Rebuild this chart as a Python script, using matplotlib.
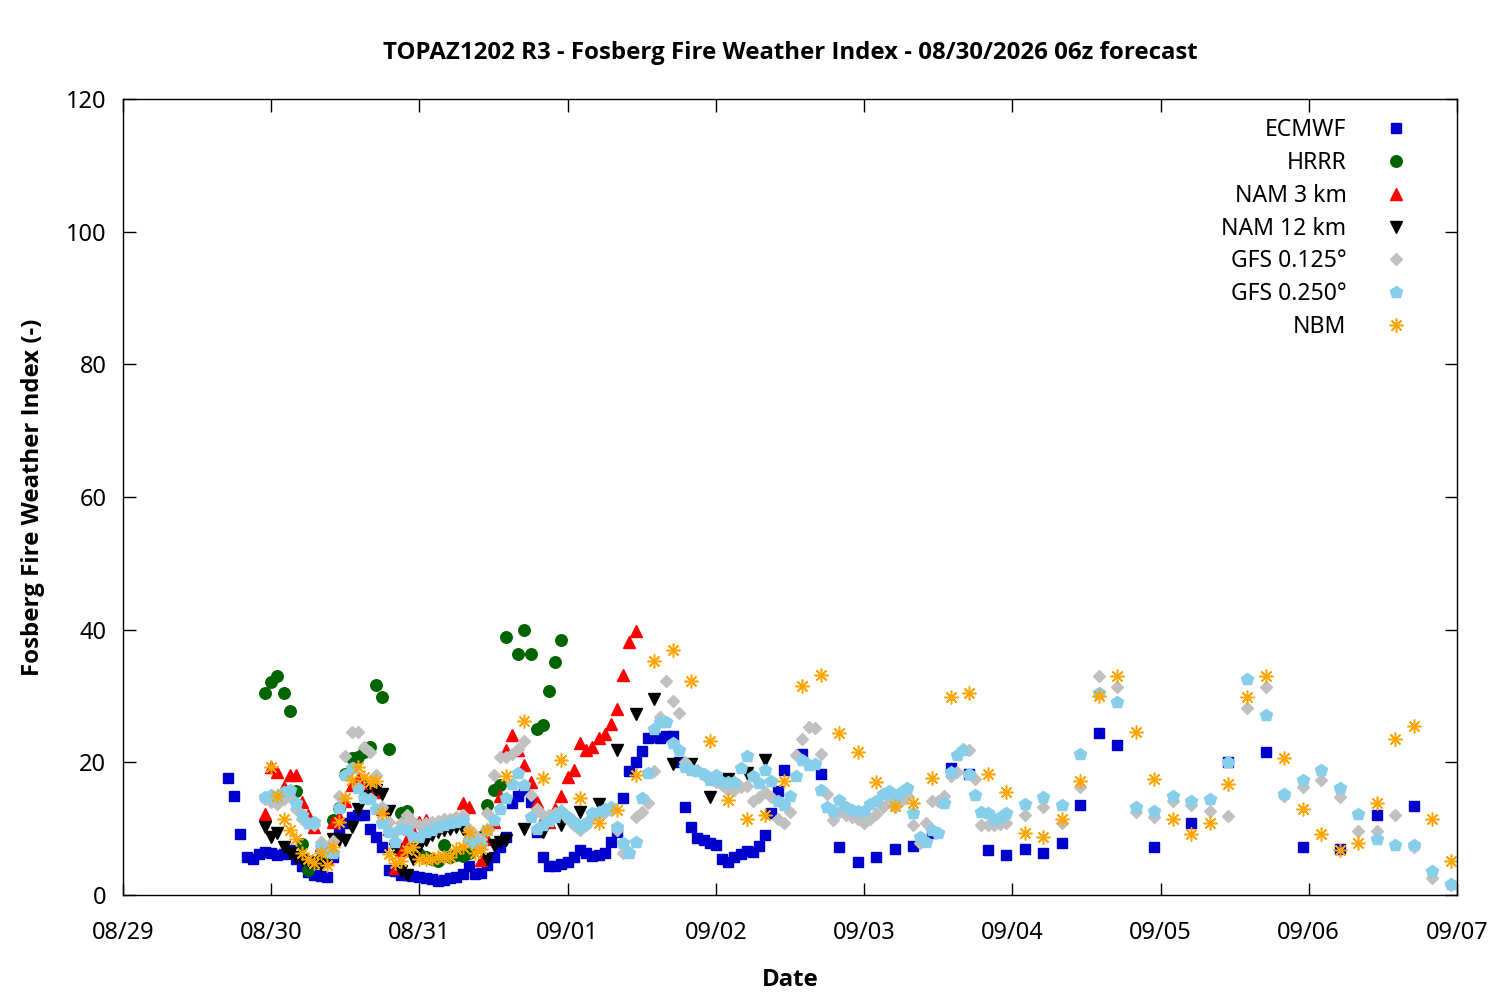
import matplotlib
matplotlib.use("Agg")
import matplotlib.pyplot as plt
from matplotlib import font_manager
import numpy as np

plt.rcParams['font.family'] = ['Noto Sans', 'DejaVu Sans']

# pick a bold-capable family
bold_family = 'DejaVu Sans'
for fam in ['Noto Sans', 'Open Sans', 'Liberation Sans']:
    try:
        fp = font_manager.findfont(font_manager.FontProperties(family=fam, weight='bold'),
                                   fallback_to_default=False)
        if 'bold' in fp.lower():
            bold_family = fam
            break
    except Exception:
        pass

# ---- data (hours since 08/29 00 local) ----
date_labels = ["08/29", "08/30", "08/31", "09/01", "09/02", "09/03", "09/04", "09/05", "09/06", "09/07"]

ecmwf_hours = list(range(17, 108)) + list(range(110, 162, 3)) + list(range(167, 210, 6))
ecmwf_vals = [17.6, 14.9, 9.2, 5.7, 5.4, 6.2, 6.5, 6.3, 6.1, 6.2,
              6.8, 5.5, 4.4, 3.4, 3.0, 2.9, 2.7, 5.8, 9.2, 10.8,
              11.8, 12.0, 12.1, 10.0, 8.7, 7.2, 3.8, 3.6, 3.0, 3.0,
              2.9, 2.7, 2.5, 2.4, 2.1, 2.3, 2.6, 2.7, 3.1, 4.4,
              3.1, 3.3, 4.5, 5.8, 7.2, 8.8, 13.9, 15.0, 15.8, 14.0,
              9.5, 5.8, 4.4, 4.4, 4.7, 5.0, 5.7, 6.8, 6.4, 5.9,
              6.0, 6.4, 8.0, 9.5, 14.6, 18.7, 20.0, 21.7, 23.7, 23.8,
              23.7, 24.0, 24.0, 20.0, 13.2, 10.2, 8.6, 8.3, 7.9, 7.6,
              5.4, 4.9, 5.7, 6.2, 6.6, 6.5, 7.4, 9.0, 12.3, 15.7,
              18.9,
              21.2, 18.2, 7.2, 4.9, 5.8, 6.9, 7.4, 9.3, 19.2, 18.3,
              6.8, 6.1, 6.9, 6.4, 7.8, 13.5, 24.4, 22.6,
              7.2, 10.8, 20.1, 21.5, 7.2, 7.0, 12.0, 13.4]

hrrr_hours = list(range(23, 44)) + list(range(45, 63)) + list(range(64, 72))
hrrr_vals = [30.5, 32.1, 33.0, 30.4, 27.7, 15.7, 7.7, 3.8, 4.8, 5.5,
             7.0, 11.3, 13.1, 18.2, 20.6, 20.8, 21.5, 22.3, 31.7, 29.8, 22.0,
             12.4, 12.7, 7.0, 6.2, 5.8, 5.4, 5.2, 7.6, 5.8, 6.0, 5.9, 6.3, 7.5, 8.8, 13.6, 15.8, 16.6, 38.9,
             36.4, 40.0, 36.3, 25.1, 25.7, 30.8, 35.1, 38.5]

nam3_hours = list(range(23, 84))
nam3_vals = [12.2, 19.3, 18.6, 16.3, 18.1, 18.1, 14.0, 12.0, 10.3, 7.5,
             5.4, 11.0, 11.8, 14.1, 16.6, 17.5, 17.1, 16.5, 15.5, 13.0,
             10.0, 4.0, 6.8, 8.5, 9.5, 11.0, 11.3, 10.5, 10.2, 10.5,
             10.8, 11.5, 13.9, 13.3, 9.0, 5.3, 8.5, 11.0, 14.9, 21.9,
             24.1, 21.9, 19.6, 17.1, 14.0, 11.5, 11.0, 12.9, 14.9, 17.8,
             18.9, 22.9, 21.9, 22.3, 23.6, 24.2, 25.8, 28.0, 33.2, 38.1, 39.8]

nam12_hours = list(range(23, 63)) + list(range(65, 105, 3))
nam12_vals = [10.2, 8.7, 9.4, 7.3, 6.3, 5.8, 5.3, 5.0, 4.8, 4.5,
              5.5, 8.5, 8.3, 8.3, 10.3, 12.9, 15.0, 16.4, 15.9, 15.3,
              12.7, 7.0, 3.6, 3.0, 5.5, 7.2, 8.3, 9.0, 9.5, 9.8,
              10.0, 10.2, 10.0, 9.0, 8.5, 7.8, 5.5, 7.5, 8.0, 8.3,
              10.0, 9.5, 10.6, 12.5, 13.7, 21.9, 27.3, 29.6, 19.7, 19.7,
              14.8, 17.5, 18.4, 20.3]

gfs_hours = list(range(23, 144)) + list(range(146, 216, 3))
gfs0125_vals = [14.5, 14.0, 13.7, 14.5, 14.8, 12.9, 11.5, 10.8, 10.5, 8.0,
                7.0, 8.2, 14.9, 21.0, 24.6, 24.6, 22.3, 21.6, 18.1, 13.3,
                11.0, 9.5, 10.8, 12.1, 11.0, 10.5, 10.8, 11.0, 11.2, 11.5,
                11.5, 11.8, 12.1, 10.0, 9.0, 8.5, 12.3, 18.1, 20.8, 20.8,
                21.2, 22.0, 23.2, 15.1, 12.9, 12.0, 12.0, 12.3, 12.8, 11.5,
                10.5, 9.8, 10.5, 11.8, 12.2, 12.5, 12.8, 9.8, 6.4, 6.5,
                11.7, 12.5, 13.9, 18.7, 26.9, 32.3, 29.2, 27.5, 20.1, 19.0,
                18.8, 18.1, 17.5, 17.0, 16.6, 15.8, 15.8, 16.3, 16.5, 14.2,
                14.8, 15.6, 14.8, 11.4, 10.8, 12.5, 21.1, 23.5, 25.4, 25.2,
                21.2, 15.3, 11.3, 12.5, 12.0, 11.8, 11.4, 10.8, 11.5, 12.2,
                13.3, 14.0, 13.3, 14.2, 15.0, 10.6, 7.8, 10.8, 14.1, 14.1,
                14.9, 18.0, 18.6, 22.0, 21.9, 17.5, 10.6, 10.6, 10.6, 10.7, 10.9,
                12.0, 13.3, 10.9, 16.3, 33.0, 31.3, 12.5, 11.7, 14.1, 13.5,
                12.7, 11.9, 28.2, 31.4, 15.0, 16.3, 17.4, 14.7, 9.7, 9.7,
                12.0, 7.2, 2.6, 1.5]
gfs0250_vals = [14.8, 15.1, 14.8, 15.6, 15.8, 13.8, 12.1, 10.9, 11.0, 7.3,
                6.5, 6.3, 13.1, 18.1, 19.1, 16.2, 14.6, 14.4, 12.9, 10.8,
                9.5, 8.0, 10.0, 9.8, 8.8, 8.8, 9.5, 9.8, 10.3, 10.6,
                10.8, 11.0, 11.3, 8.3, 7.8, 7.5, 9.8, 11.3, 12.9, 14.6,
                16.8, 18.4, 16.6, 11.8, 10.0, 10.6, 11.2, 11.8, 12.5, 11.8,
                11.0, 10.3, 10.9, 12.3, 12.5, 12.9, 13.2, 10.3, 7.8, 6.4,
                8.0, 14.6, 18.4, 25.1, 26.1, 26.1, 22.9, 21.9, 19.3, 18.9,
                18.7, 18.2, 17.4, 18.1, 17.1, 17.1, 17.1, 19.1, 21.0, 17.9,
                16.9, 18.9, 17.2, 14.1, 13.5, 14.9, 18.0, 20.4, 19.6, 19.8,
                15.9, 13.3, 12.7, 14.3, 13.3, 12.8, 12.7, 12.7, 13.7, 14.1,
                15.3, 15.7, 14.7, 15.6, 16.1, 12.4, 8.8, 8.0, 9.8, 9.3,
                13.8, 18.6, 21.1, 21.9, 18.3, 15.1, 12.5, 12.3, 11.4, 11.7, 12.4,
                13.7, 14.7, 13.6, 21.2, 30.4, 29.1, 13.3, 12.7, 14.9, 14.1,
                14.4, 20.1, 32.5, 27.1, 15.2, 17.3, 18.8, 16.2, 12.2, 8.5,
                7.6, 7.6, 3.6, 1.6]

nbm_hours = list(range(24, 60)) + list(range(62, 216, 3))
nbm_vals = [19.3, 14.9, 11.5, 9.8, 8.4, 6.3, 5.5, 4.8, 6.3, 4.5,
            7.3, 11.0, 14.6, 17.4, 19.3, 17.8, 17.1, 17.2, 12.3, 6.2,
            4.8, 5.2, 6.8, 7.3, 5.5, 5.4, 5.4, 5.7, 5.8, 5.8,
            6.9, 7.2, 9.5, 6.3, 7.0, 9.8,
            17.9, 26.2, 17.6, 20.3, 14.6, 10.8, 12.8, 18.1, 35.3, 37.0,
            32.3, 23.2, 14.3, 11.4, 12.1, 17.2, 31.5, 33.2, 24.4, 21.5,
            17.0, 13.4, 13.8, 17.6, 29.8, 30.5, 18.3, 15.5, 9.4, 8.7,
            11.5, 17.2, 30.0, 33.0, 24.5, 17.5, 11.4, 9.2, 10.9, 16.7,
            29.8, 33.0, 20.7, 12.9, 9.2, 6.8, 7.8, 13.8, 23.5, 25.5,
            11.5, 5.2]

# ---- figure ----
fig = plt.figure(figsize=(15, 10), dpi=100)
ax = fig.add_axes([0.082, 0.105, 0.8893, 0.796])

ax.plot(ecmwf_hours, ecmwf_vals, linestyle='none', marker='s', ms=6.8,
        color='#0000CC', mec='#0000CC', label='ECMWF')
ax.plot(hrrr_hours, hrrr_vals, linestyle='none', marker='o', ms=8.3,
        color='#006400', mec='#006400', label='HRRR')
ax.plot(nam3_hours, nam3_vals, linestyle='none', marker='^', ms=8.5,
        color='#FF0000', mec='#FF0000', label='NAM 3 km')
ax.plot(nam12_hours, nam12_vals, linestyle='none', marker='v', ms=8.5,
        color='black', mec='black', label='NAM 12 km')
ax.plot(gfs_hours, gfs0125_vals, linestyle='none', marker='D', ms=6.2,
        color='#C0C0C0', mec='#C0C0C0', label='GFS 0.125°')
ax.plot(gfs_hours, gfs0250_vals, linestyle='none', marker='p', ms=9,
        color='#87CEEB', mec='#87CEEB', label='GFS 0.250°')
ax.plot(nbm_hours, nbm_vals, linestyle='none', marker=(8, 2, 0), ms=10,
        mew=1.1, color='#FFA500', mec='#FFA500', label='NBM')

ax.set_xlim(0, 216)
ax.set_ylim(0, 120)
ax.set_xticks(np.arange(0, 217, 24))
ax.set_xticklabels(date_labels)
ax.set_yticks(np.arange(0, 121, 20))

ax.tick_params(axis='both', direction='in', length=9, width=1,
               top=True, right=True, labelsize=17)
ax.tick_params(axis='x', pad=19)
ax.tick_params(axis='y', pad=12)
for s in ax.spines.values():
    s.set_linewidth(1)

bold = dict(family=[bold_family, 'DejaVu Sans'], weight='bold')
ax.set_xlabel('Date', fontsize=17.3, labelpad=16, **bold)
ax.set_ylabel('Fosberg Fire Weather Index (-)', fontsize=17.3, labelpad=15, **bold)
ax.set_title('TOPAZ1202 R3 - Fosberg Fire Weather Index - 08/30/2026 06z forecast',
             fontsize=17.3, pad=29, **bold)

leg = ax.legend(loc='upper right', bbox_to_anchor=(0.9782, 0.988), borderaxespad=0,
                frameon=False, markerfirst=False, fontsize=16.5,
                handletextpad=1.15, labelspacing=0.39, handlelength=2.0)

fig.savefig('out.png', dpi=100)
